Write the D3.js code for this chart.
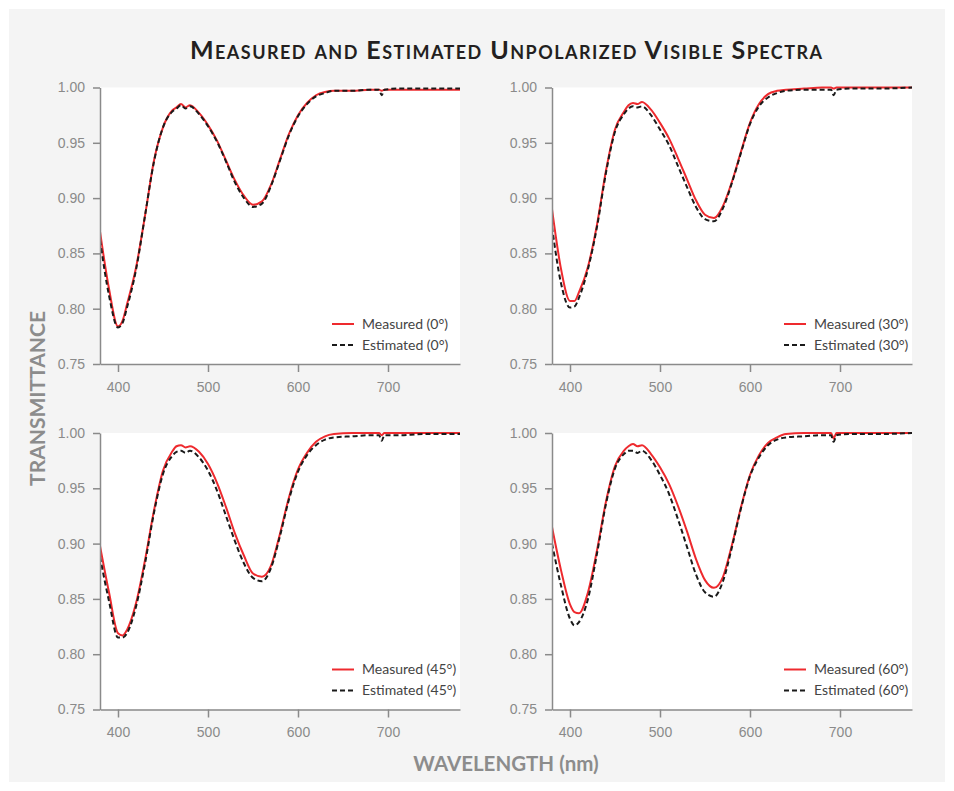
<!DOCTYPE html>
<html>
<head>
<meta charset="utf-8">
<script src="https://cdn.jsdelivr.net/npm/d3@7"></script>
<style>
	body { margin: 0; background: #ffffff; }
	svg { display: block; }
	.tick text { font-family: "Liberation Sans", Arial, sans-serif; font-size: 14px; fill: #8a8a8a; }
	.axis path, .axis line { stroke: #8a8a8a; stroke-width: 1.5; }
</style>
</head>
<body>
<script>
/* spectra.js
 * Four small panels of measured vs estimated transmittance.
 */

// wavelengths (nm) shared by every series
var wavelengths = [380, 390, 400, 405, 410, 420, 430, 440, 450, 460, 465, 470, 475, 480, 490, 500, 510, 520, 530, 540, 550,
	560, 570, 580, 590, 600, 610, 620, 630, 640, 660, 680, 690, 693, 696, 710, 740, 780];

var measured0 = [0.870, 0.818, 0.784, 0.789, 0.804, 0.837, 0.884, 0.934, 0.964, 0.979, 0.982, 0.985, 0.982, 0.984, 0.977, 0.966, 0.952, 0.934, 0.916, 0.902, 0.894,
	0.897, 0.912, 0.935, 0.958, 0.975, 0.986, 0.993, 0.996, 0.997, 0.997, 0.998, 0.998, 0.997, 0.998, 0.998, 0.998, 0.998];
var estimated0 = [0.862, 0.812, 0.783, 0.787, 0.801, 0.835, 0.884, 0.933, 0.964, 0.978, 0.981, 0.984, 0.981, 0.983, 0.976, 0.965, 0.951, 0.933, 0.914, 0.900, 0.892,
	0.895, 0.911, 0.934, 0.957, 0.974, 0.985, 0.992, 0.995, 0.997, 0.997, 0.998, 0.998, 0.993, 0.998, 0.999, 0.999, 0.999];

var measured30 = [0.890, 0.836, 0.807, 0.807, 0.815, 0.838, 0.876, 0.925, 0.962, 0.978, 0.984, 0.986, 0.985, 0.987, 0.980, 0.968, 0.954, 0.936, 0.917, 0.898, 0.885,
	0.882, 0.893, 0.915, 0.942, 0.968, 0.985, 0.994, 0.997, 0.998, 0.999, 1.000, 1.000, 0.999, 1.000, 1.000, 1.000, 1.000];
var estimated30 = [0.874, 0.823, 0.801, 0.802, 0.810, 0.836, 0.874, 0.923, 0.960, 0.976, 0.981, 0.983, 0.982, 0.983, 0.975, 0.962, 0.948, 0.929, 0.910, 0.892, 0.881,
	0.879, 0.891, 0.914, 0.941, 0.967, 0.983, 0.991, 0.995, 0.997, 0.998, 0.998, 0.998, 0.993, 0.998, 0.999, 0.999, 1.000];

var measured45 = [0.898, 0.856, 0.819, 0.817, 0.822, 0.846, 0.885, 0.930, 0.966, 0.983, 0.988, 0.989, 0.987, 0.988, 0.983, 0.972, 0.955, 0.933, 0.909, 0.889, 0.873,
	0.870, 0.880, 0.909, 0.942, 0.967, 0.982, 0.992, 0.997, 0.999, 1.000, 1.000, 1.000, 0.998, 1.000, 1.000, 1.000, 1.000];
var estimated45 = [0.888, 0.848, 0.815, 0.815, 0.819, 0.843, 0.882, 0.928, 0.963, 0.979, 0.983, 0.984, 0.982, 0.984, 0.978, 0.966, 0.948, 0.925, 0.902, 0.882, 0.869,
	0.866, 0.878, 0.907, 0.940, 0.965, 0.980, 0.989, 0.994, 0.996, 0.997, 0.998, 0.998, 0.993, 0.998, 0.998, 0.999, 0.999];

var measured60 = [0.915, 0.876, 0.845, 0.838, 0.837, 0.856, 0.894, 0.938, 0.970, 0.984, 0.988, 0.990, 0.988, 0.989, 0.981, 0.969, 0.954, 0.934, 0.911, 0.886, 0.867,
	0.860, 0.870, 0.899, 0.933, 0.962, 0.980, 0.991, 0.996, 0.999, 1.000, 1.000, 1.000, 0.995, 1.000, 1.000, 1.000, 1.000];
var estimated60 = [0.900, 0.862, 0.832, 0.826, 0.829, 0.850, 0.891, 0.936, 0.968, 0.981, 0.984, 0.984, 0.982, 0.984, 0.976, 0.962, 0.945, 0.922, 0.897, 0.872, 0.856,
	0.852, 0.866, 0.897, 0.932, 0.961, 0.978, 0.989, 0.994, 0.996, 0.997, 0.998, 0.998, 0.992, 0.998, 0.999, 0.999, 1.000];

var angles = ["0°", "30°", "45°", "60°"];
var measuredSeries = [measured0, measured30, measured45, measured60];
var estimatedSeries = [estimated0, estimated30, estimated45, estimated60];

var xTicks = [400, 500, 600, 700];
var yTicks = [0.75, 0.80, 0.85, 0.90, 0.95, 1.00];

var title = "Measured and Estimated Unpolarized Visible Spectra";
var xLabel = "WAVELENGTH (nm)";
var yLabel = "TRANSMITTANCE";

var fullWidth = 954, fullHeight = 791;

// panel grid
var grid = {left: 100, top: 87.5, width: 360, height: 276.5, gapX: 92, gapY: 69};
var centerX = grid.left + grid.width + grid.gapX / 2;

var svg = d3.select("body").append("svg")
	.attr("width", fullWidth)
	.attr("height", fullHeight);

// grey card behind everything
svg.append("rect")
	.attr("x", 9)
	.attr("y", 9)
	.attr("width", 936)
	.attr("height", 773)
	.style("fill", "#f4f4f4");

svg.append("text")
	.attr("x", centerX)
	.attr("y", 59)
	.attr("textLength", 632)
	.attr("lengthAdjust", "spacing")
	.style("text-anchor", "middle")
	.style("font-family", "Lato, 'Open Sans', sans-serif")
	.style("font-weight", "bold")
	.style("font-variant", "small-caps")
	.style("font-size", "25px")
	.style("fill", "#231f20")
	.text(title);

svg.append("text")
	.attr("x", centerX)
	.attr("y", 771)
	.style("text-anchor", "middle")
	.style("font-family", "Lato, 'Open Sans', sans-serif")
	.style("font-weight", "bold")
	.style("font-size", "20.5px")
	.style("fill", "#8c8c8c")
	.text(xLabel);

svg.append("text")
	.attr("transform", "translate(45," + (grid.top + grid.height + grid.gapY / 2) + ") rotate(-90)")
	.style("text-anchor", "middle")
	.style("font-family", "Lato, 'Open Sans', sans-serif")
	.style("font-weight", "bold")
	.style("font-size", "21px")
	.style("fill", "#8c8c8c")
	.text(yLabel);

var xScale = d3.scaleLinear().domain([380, 780]).range([0, grid.width]);
var yScale = d3.scaleLinear().domain([0.75, 1.00]).range([grid.height, 0]);

var line = d3.line()
	.x(function(d) { return xScale(d[0]); })
	.y(function(d) { return yScale(d[1]); })
	.curve(d3.curveMonotoneX);

angles.forEach(function(angle, i) {
	var col = i % 2, row = Math.floor(i / 2);
	var g = svg.append("g")
		.attr("transform", "translate(" + (grid.left + col * (grid.width + grid.gapX)) + "," + (grid.top + row * (grid.height + grid.gapY)) + ")");

	g.append("rect")
		.attr("width", grid.width)
		.attr("height", grid.height)
		.style("fill", "#ffffff");

	g.append("clipPath")
		.attr("id", "clip" + i)
		.append("rect")
			.attr("y", -2)
			.attr("width", grid.width)
			.attr("height", grid.height + 2);

	var measured = wavelengths.map(function(w, j) { return [w, measuredSeries[i][j]]; });
	var estimated = wavelengths.map(function(w, j) { return [w, estimatedSeries[i][j]]; });

	g.append("path")
		.datum(measured)
		.attr("clip-path", "url(#clip" + i + ")")
		.attr("d", line)
		.style("fill", "none")
		.style("stroke", "#ee2a2e")
		.style("stroke-width", 2);

	g.append("path")
		.datum(estimated)
		.attr("clip-path", "url(#clip" + i + ")")
		.attr("d", line)
		.style("fill", "none")
		.style("stroke", "#1a1a1a")
		.style("stroke-width", 2)
		.style("stroke-dasharray", "5,3");

	g.append("g")
		.attr("class", "axis")
		.attr("transform", "translate(0," + grid.height + ")")
		.call(d3.axisBottom(xScale).tickValues(xTicks).tickSize(8).tickSizeOuter(0).tickPadding(8))
		.call(function(a) { a.selectAll(".tick text").attr("dy", "0.85em"); });

	g.append("g")
		.attr("class", "axis")
		.call(d3.axisLeft(yScale).tickValues(yTicks).tickSize(7).tickSizeOuter(0).tickPadding(8)
			.tickFormat(d3.format(".2f")));

	// legend
	var legend = g.append("g")
		.attr("transform", "translate(232," + (grid.height - 40) + ")");
	var items = [["Measured (" + angle + ")", "#ee2a2e", null], ["Estimated (" + angle + ")", "#1a1a1a", "5,3"]];
	items.forEach(function(item, k) {
		legend.append("line")
			.attr("x1", 0)
			.attr("x2", 22)
			.attr("y1", k * 21)
			.attr("y2", k * 21)
			.style("stroke", item[1])
			.style("stroke-width", 2)
			.style("stroke-dasharray", item[2]);
		legend.append("text")
			.attr("x", 30)
			.attr("y", k * 21)
			.attr("dy", ".35em")
			.style("font-family", "Lato, 'Open Sans', sans-serif")
			.style("font-size", "14px")
			.style("fill", "#444444")
			.text(item[0]);
	});
});
</script>
</body>
</html>
